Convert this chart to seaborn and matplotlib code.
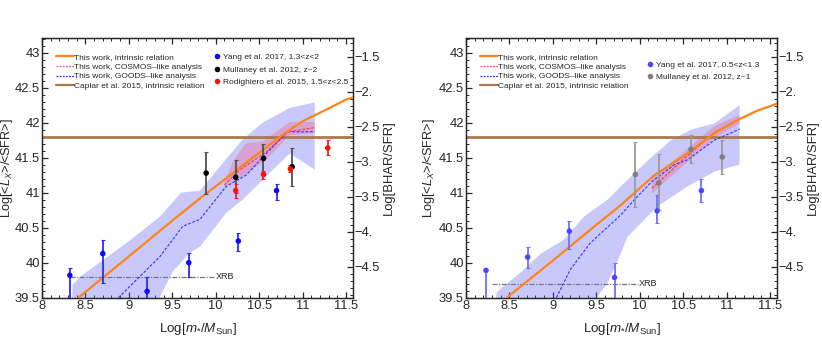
import matplotlib
matplotlib.use("Agg")
import matplotlib.pyplot as plt
import seaborn as sns
from matplotlib.ticker import MultipleLocator, AutoMinorLocator, FuncFormatter
from matplotlib.lines import Line2D

# ---------------- left panel (1.3<z<2) ----------------
hi_intr_m = [8.42, 9.0, 9.5, 9.82, 10.24, 10.5, 10.74, 11.0, 11.31, 11.5, 11.6]
hi_intr_l = [39.50, 40.09, 40.60, 40.92, 41.32, 41.57, 41.80, 42.02, 42.21, 42.33, 42.37]

hi_goods_m = [8.88, 9.36, 9.62, 9.82, 10.12, 10.35, 10.58, 10.83, 11.14]
hi_goods_l = [39.50, 40.09, 40.52, 40.62, 41.09, 41.25, 41.56, 41.87, 41.87]
hi_band_up_m = [8.35, 8.44, 8.97, 9.36, 9.60, 9.82, 10.08, 10.31, 10.54, 10.85, 11.14]
hi_band_up_l = [39.68, 39.80, 40.28, 40.66, 41.00, 41.03, 41.42, 41.76, 42.00, 42.21, 42.29]
hi_band_lo_m = [8.35, 9.20, 9.36, 9.51, 9.70, 9.82, 10.12, 10.31, 10.58, 10.85, 11.14]
hi_band_lo_l = [38.80, 39.10, 39.52, 39.88, 40.14, 40.23, 40.71, 40.90, 41.23, 41.56, 41.33]

hi_cosmos_m = [10.10, 10.27, 10.58, 10.83, 11.14]
hi_cosmos_l = [41.11, 41.32, 41.58, 41.87, 41.93]
hi_rband_up_m = [10.10, 10.20, 10.35, 10.54, 10.85, 11.14]
hi_rband_up_l = [41.15, 41.45, 41.71, 41.73, 42.01, 42.01]
hi_rband_lo_m = [10.10, 10.27, 10.58, 10.85, 11.14]
hi_rband_lo_l = [41.09, 41.20, 41.47, 41.82, 41.85]

yang_hi_m = [8.32, 8.70, 9.21, 9.69, 10.26, 10.70]
yang_hi_l = [39.82, 40.13, 39.59, 40.00, 40.31, 41.03]
yang_hi_up = [0.10, 0.20, 0.21, 0.14, 0.12, 0.10]
yang_hi_lo = [0.40, 0.42, 0.30, 0.20, 0.15, 0.13]

mull_hi_m = [9.89, 10.23, 10.55, 10.88]
mull_hi_l = [41.28, 41.22, 41.49, 41.37]
mull_hi_up = [0.30, 0.24, 0.20, 0.27]
mull_hi_lo = [0.30, 0.23, 0.21, 0.28]

rod_m = [10.23, 10.55, 10.86, 11.29]
rod_l = [41.03, 41.26, 41.34, 41.64]
rod_up = [0.09, 0.05, 0.05, 0.11]
rod_lo = [0.10, 0.06, 0.04, 0.10]

hi_xrb_m = [8.32, 9.99]
hi_xrb_l = [39.80, 39.80]

# ---------------- right panel (0.5<z<1.3) ----------------
lo_intr_m = [8.47, 9.0, 9.5, 9.78, 10.17, 10.55, 10.86, 11.13, 11.35, 11.6]
lo_intr_l = [39.50, 40.03, 40.54, 40.82, 41.25, 41.56, 41.85, 42.04, 42.17, 42.28]

lo_goods_m = [9.04, 9.20, 9.43, 9.78, 9.94, 10.14, 10.40, 10.55, 10.86, 11.15]
lo_goods_l = [39.50, 39.90, 40.28, 40.68, 40.90, 41.16, 41.40, 41.47, 41.75, 41.91]
lo_band_up_m = [8.30, 8.36, 8.62, 8.86, 9.12, 9.36, 9.63, 9.78, 10.12, 10.36, 10.59, 10.86, 11.15]
lo_band_up_l = [39.30, 39.59, 39.85, 40.13, 40.32, 40.66, 40.90, 41.09, 41.49, 41.75, 41.90, 41.99, 42.25]
lo_band_lo_m = [8.30, 9.51, 9.63, 9.78, 9.86, 10.20, 10.55, 10.86, 11.15]
lo_band_lo_l = [38.50, 39.51, 39.71, 40.13, 40.37, 40.80, 41.09, 41.30, 41.40]

lo_cosmos_m = [10.14, 10.55, 10.86, 11.13]
lo_cosmos_l = [41.06, 41.53, 41.86, 42.04]
lo_rband_m = [10.14, 10.55, 10.86, 11.15]
lo_rband_up_l = [41.19, 41.63, 41.95, 42.11]
lo_rband_lo_l = [40.99, 41.44, 41.78, 41.99]

yang_lo_m = [8.23, 8.71, 9.19, 9.71, 10.20, 10.71]
yang_lo_l = [39.89, 40.08, 40.45, 39.79, 40.74, 41.03]
yang_lo_up = [0.0, 0.15, 0.15, 0.20, 0.23, 0.16]
yang_lo_lo = [0.50, 0.15, 0.26, 0.35, 0.18, 0.17]

mull_lo_m = [9.95, 10.22, 10.59, 10.95]
mull_lo_l = [41.26, 41.14, 41.62, 41.51]
mull_lo_up = [0.47, 0.41, 0.21, 0.24]
mull_lo_lo = [0.47, 0.39, 0.19, 0.25]

lo_xrb_m = [8.30, 9.98]
lo_xrb_l = [39.70, 39.70]

caplar_l = 41.8
bhar_offset = 44.44

line_labels = ["This work, intrinsic relation", "This work, COSMOS\u2013like analysis",
               "This work, GOODS\u2013like analysis", "Caplar et al. 2015, intrinsic relation"]

ORANGE = "#ff8418"
BROWN = "#a87a4c"
BAND_BLUE = "#5a5af5"

sns.set_style("ticks")
plt.rcParams["font.family"] = ["Liberation Sans", "DejaVu Sans"]
plt.rcParams["mathtext.fontset"] = "custom"
plt.rcParams["mathtext.rm"] = "Liberation Sans"
plt.rcParams["mathtext.it"] = "Liberation Sans:italic"
plt.rcParams["axes.unicode_minus"] = True


def draw_panel(ax, intr, goods, band_up, band_lo, cosmos, rband_up, rband_lo, xrb, sets, lab_l, lab_r):
    # shaded bands
    ax.fill(list(band_up[0]) + list(band_lo[0])[::-1], list(band_up[1]) + list(band_lo[1])[::-1],
            color=BAND_BLUE, alpha=0.33, lw=0, zorder=1)
    ax.fill(list(rband_up[0]) + list(rband_lo[0])[::-1], list(rband_up[1]) + list(rband_lo[1])[::-1],
            color="#ff4060", alpha=0.28, lw=0, zorder=1.5)

    ax.axhline(caplar_l, color=BROWN, lw=2.0, zorder=2)
    sns.lineplot(x=xrb[0], y=xrb[1], ax=ax, color="#777777", lw=0.9, ls=(0, (4, 1.2, 1, 1.2)), zorder=2)
    ax.text(xrb[0][1] + 0.01, xrb[1][1], "XRB", fontsize=6.5, va="center", ha="left")

    sns.lineplot(x=goods[0], y=goods[1], ax=ax, color="#3030ff", lw=0.8, ls=(0, (2.5, 1.5)),
                 sort=False, estimator=None, zorder=3)
    sns.lineplot(x=cosmos[0], y=cosmos[1], ax=ax, color="#ff3050", lw=0.8, ls=(0, (2.5, 1.5)),
                 sort=False, estimator=None, zorder=3)
    sns.lineplot(x=intr[0], y=intr[1], ax=ax, color=ORANGE, lw=1.6, sort=False, estimator=None, zorder=4)

    for m, l, up, lo, col, ecol in sets:
        ax.errorbar(m, l, yerr=[lo, up], fmt="none", ecolor=ecol, elinewidth=1.3, capsize=1.3,
                    capthick=0.8, zorder=5)
        sns.scatterplot(x=m, y=l, ax=ax, color=col, s=16, edgecolor="none", zorder=6)

    ax.set_xlim(8, 11.58)
    ax.set_ylim(39.5, 43.21)
    ax.xaxis.set_major_locator(MultipleLocator(0.5))
    ax.yaxis.set_major_locator(MultipleLocator(0.5))
    ax.xaxis.set_minor_locator(AutoMinorLocator(5))
    ax.yaxis.set_minor_locator(AutoMinorLocator(5))
    ax.xaxis.set_major_formatter(FuncFormatter(lambda v, p: "%g" % v))
    ax.yaxis.set_major_formatter(FuncFormatter(lambda v, p: "%g" % v))
    ax.tick_params(which="both", direction="in", top=True, right=False, labelsize=9.3, pad=1.5)
    ax.tick_params(which="major", length=4.5, width=0.9)
    ax.tick_params(which="minor", length=2.3, width=0.7)
    for s in ax.spines.values():
        s.set_linewidth(1.0)
    ax.set_xlabel(r"Log[$m_{*}/M_{\rm Sun}$]", fontsize=9.6, labelpad=1)
    ax.set_ylabel(r"Log[<$L_X$>/<SFR>]", fontsize=9.2)

    # right axis in BHAR/SFR
    ax2 = ax.twinx()
    ax2.set_ylim(39.5 - bhar_offset, 43.21 - bhar_offset)
    ax2.yaxis.set_major_locator(MultipleLocator(0.5))
    ax2.yaxis.set_minor_locator(AutoMinorLocator(5))
    ax2.yaxis.set_major_formatter(FuncFormatter(
        lambda v, p: ("%g" % v).replace("-", "\u2212") + ("." if abs(v - round(v)) < 1e-6 else "")))
    ax2.tick_params(which="both", direction="in", labelsize=9.3, pad=1.0)
    ax2.tick_params(which="major", length=4.5, width=0.9)
    ax2.tick_params(which="minor", length=2.3, width=0.7)
    ax2.set_ylabel("Log[BHAR/SFR]", fontsize=9.4)
    ax2.yaxis.set_label_coords(lab_r, 0.5)
    ax.yaxis.set_label_coords(lab_l, 0.5)
    ax.xaxis.set_label_coords(0.5, -0.09)
    return ax


def line_handles():
    return [Line2D([], [], color=ORANGE, lw=1.6),
            Line2D([], [], color="#ff5070", lw=0.9, ls=(0, (1.5, 1))),
            Line2D([], [], color="#3030ff", lw=0.9, ls=(0, (1.5, 1))),
            Line2D([], [], color=BROWN, lw=1.6)]


fig = plt.figure(figsize=(8.22, 3.51), dpi=100)
axL = fig.add_axes([0.0511, 0.1519, 0.3783, 0.7399])
axR = fig.add_axes([0.5669, 0.1519, 0.3783, 0.7399])

draw_panel(axL, (hi_intr_m, hi_intr_l), (hi_goods_m, hi_goods_l),
           (hi_band_up_m, hi_band_up_l), (hi_band_lo_m, hi_band_lo_l),
           (hi_cosmos_m, hi_cosmos_l), (hi_rband_up_m, hi_rband_up_l), (hi_rband_lo_m, hi_rband_lo_l),
           (hi_xrb_m, hi_xrb_l),
           [(yang_hi_m, yang_hi_l, yang_hi_up, yang_hi_lo, "#0a0aff", "#2a2aff"),
            (mull_hi_m, mull_hi_l, mull_hi_up, mull_hi_lo, "black", "#505050"),
            (rod_m, rod_l, rod_up, rod_lo, "#ff1010", "#ff2020")], -0.087, 1.097)

draw_panel(axR, (lo_intr_m, lo_intr_l), (lo_goods_m, lo_goods_l),
           (lo_band_up_m, lo_band_up_l), (lo_band_lo_m, lo_band_lo_l),
           (lo_cosmos_m, lo_cosmos_l), (lo_rband_m, lo_rband_up_l), (lo_rband_m, lo_rband_lo_l),
           (lo_xrb_m, lo_xrb_l),
           [(yang_lo_m, yang_lo_l, yang_lo_up, yang_lo_lo, "#4848ff", "#7070ff"),
            (mull_lo_m, mull_lo_l, mull_lo_up, mull_lo_lo, "#808080", "#9a9a9a")], -0.094, 1.097)

# legends
for ax, mx, my, mk in [
        (axL, 0.553, 0.94, [("#0a0aff", "Yang et al. 2017, 1.3<z<2"),
                            ("black", "Mullaney et al. 2012, z~2"),
                            ("#ff1010", "Rodighiero et al. 2015, 1.5<z<2.5")]),
        (axR, 0.580, 0.912, [("#4848ff", "Yang et al. 2017, 0.5<z<1.3"),
                             ("#808080", "Mullaney et al. 2012, z~1")])]:
    if ax.get_legend() is not None:
        ax.get_legend().remove()
    leg1 = ax.legend(line_handles(), line_labels, loc="upper left", bbox_to_anchor=(0.045, 0.943),
                     frameon=False, fontsize=6.0, handlelength=2.2, handletextpad=0.0,
                     labelspacing=0.25, borderaxespad=0, borderpad=0)
    ax.add_artist(leg1)
    hs = [Line2D([], [], ls="none", marker="o", markersize=4.0, color=c, markeredgecolor="none") for c, _ in mk]
    ax.legend(hs, [t for _, t in mk], loc="upper left", bbox_to_anchor=(mx, my), frameon=False,
              fontsize=6.0, handlelength=0.8, handletextpad=0.3, labelspacing=0.55,
              borderaxespad=0, borderpad=0)

fig.savefig("out.png", dpi=100)
